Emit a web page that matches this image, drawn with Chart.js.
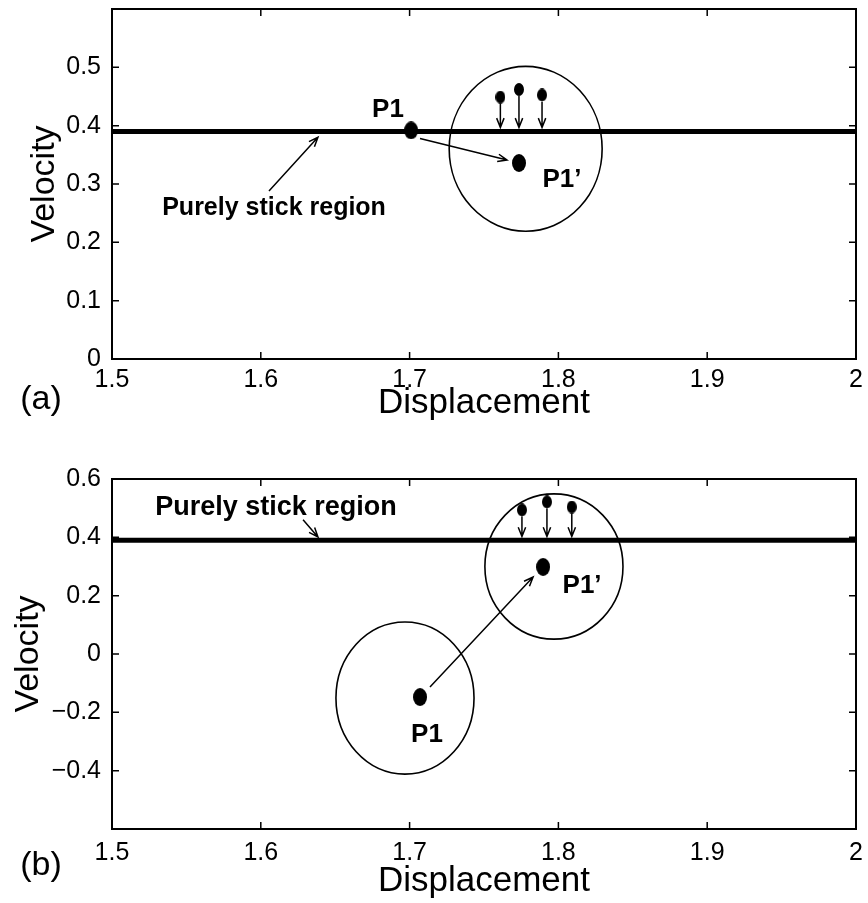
<!DOCTYPE html>
<html>
<head>
<meta charset="utf-8">
<script src="https://cdn.jsdelivr.net/npm/chart.js@4/dist/chart.umd.min.js"></script>
<style>
  html, body { margin: 0; padding: 0; background: #fff; }
  .panel { position: absolute; left: 0; width: 868px; }
  #wrapA { top: 0; height: 430px; }
  #wrapB { top: 440px; height: 463px; }
</style>
</head>
<body>
<div class="panel" id="wrapA"><canvas id="chartA"></canvas></div>
<div class="panel" id="wrapB"><canvas id="chartB"></canvas></div>
<script>
// axes
const xTicks = [1.5, 1.6, 1.7, 1.8, 1.9, 2];
const yTicksA = [0, 0.1, 0.2, 0.3, 0.4, 0.5];
const yTicksB = [-0.4, -0.2, 0, 0.2, 0.4, 0.6];
const stickVelocity = 0.39;

// panel (a)
const p1A = [1.701, 0.392];
const p1primeA = [1.7735, 0.336];
const smallXA = [1.761, 1.7735, 1.789];
const smallYA = [0.449, 0.462, 0.4526];
const circlesA = [[1.778, 0.3604, 0.0514, 0.1413]]; // cx, cy, rx, ry

// panel (b)
const p1B = [1.707, -0.1475];
const p1primeB = [1.7897, 0.2985];
const smallXB = [1.7755, 1.7923, 1.809];
const smallYB = [0.494, 0.5214, 0.504];
const circlesB = [[1.6969, -0.151, 0.0464, 0.2607], [1.797, 0.300, 0.0464, 0.249]];

const FONT = '"Liberation Sans", Arial, Helvetica, sans-serif';

function dotImage(w, h) {
    const c = document.createElement('canvas');
    c.width = w; c.height = h;
    const g = c.getContext('2d');
    g.fillStyle = '#000';
    g.beginPath();
    g.ellipse(w / 2, h / 2, w / 2, h / 2, 0, 0, Math.PI * 2);
    g.fill();
    return c;
}
const bigDot = dotImage(14, 18);
const smallDot = dotImage(10, 13);

function drawArrow(ctx, x1, y1, x2, y2) {
    const ang = Math.atan2(y2 - y1, x2 - x1);
    const len = 10, spread = 0.38;
    ctx.beginPath();
    ctx.moveTo(x1, y1);
    ctx.lineTo(x2, y2);
    ctx.moveTo(x2 - len * Math.cos(ang - spread), y2 - len * Math.sin(ang - spread));
    ctx.lineTo(x2, y2);
    ctx.lineTo(x2 - len * Math.cos(ang + spread), y2 - len * Math.sin(ang + spread));
    ctx.stroke();
}

const sketch = {
    id: 'sketch',
    afterDraw(chart, args, opts) {
        const { ctx, chartArea: a, scales: { x, y } } = chart;
        ctx.save();
        ctx.strokeStyle = '#000';

        // ticks pointing in, on all four sides
        ctx.lineWidth = 1.5;
        ctx.beginPath();
        x.ticks.forEach(t => {
            const px = x.getPixelForValue(t.value);
            ctx.moveTo(px, a.bottom); ctx.lineTo(px, a.bottom - 7);
            ctx.moveTo(px, a.top); ctx.lineTo(px, a.top + 7);
        });
        y.ticks.forEach(t => {
            const py = y.getPixelForValue(t.value);
            ctx.moveTo(a.left, py); ctx.lineTo(a.left + 7, py);
            ctx.moveTo(a.right, py); ctx.lineTo(a.right - 7, py);
        });
        ctx.stroke();

        // box
        ctx.lineWidth = 2;
        ctx.strokeRect(a.left, a.top, a.right - a.left, a.bottom - a.top);

        // circles
        ctx.lineWidth = 1.6;
        opts.circles.forEach(c => {
            const cx = x.getPixelForValue(c[0]), cy = y.getPixelForValue(c[1]);
            const rx = Math.abs(x.getPixelForValue(c[0] + c[2]) - cx);
            const ry = Math.abs(y.getPixelForValue(c[1] + c[3]) - cy);
            ctx.beginPath();
            ctx.ellipse(cx, cy, rx, ry, 0, 0, Math.PI * 2);
            ctx.stroke();
        });

        // arrows
        ctx.lineWidth = 1.5;
        opts.arrows.forEach(r => {
            drawArrow(ctx, x.getPixelForValue(r[0]), y.getPixelForValue(r[1]),
                x.getPixelForValue(r[2]), y.getPixelForValue(r[3]));
        });

        // text notes
        ctx.fillStyle = '#000';
        ctx.textAlign = 'center';
        ctx.textBaseline = 'middle';
        opts.notes.forEach(n => {
            ctx.font = 'bold ' + n[3] + 'px ' + FONT;
            ctx.fillText(n[0], x.getPixelForValue(n[1]), y.getPixelForValue(n[2]));
        });

        // panel letter
        ctx.font = '34px ' + FONT;
        ctx.fillText(opts.letter[0], opts.letter[1], opts.letter[2]);
        ctx.restore();
    }
};

function makeChart(id, cfg) {
    const small = cfg.smallX.map((v, i) => ({ x: v, y: cfg.smallY[i] }));
    return new Chart(document.getElementById(id), {
        type: 'scatter',
        data: {
            datasets: [
                {
                    type: 'line',
                    data: [{ x: 1.5, y: stickVelocity }, { x: 2, y: stickVelocity }],
                    borderColor: '#000',
                    borderWidth: 5,
                    pointRadius: 0
                },
                {
                    data: [{ x: cfg.p1[0], y: cfg.p1[1] }, { x: cfg.p1prime[0], y: cfg.p1prime[1] }],
                    pointStyle: bigDot,
                    pointRadius: 8
                },
                {
                    data: small,
                    pointStyle: smallDot,
                    pointRadius: 6
                }
            ]
        },
        options: {
            responsive: true,
            maintainAspectRatio: false,
            animation: false,
            layout: { padding: { top: cfg.padTop, right: 12, left: 0, bottom: 0 } },
            plugins: {
                legend: { display: false },
                tooltip: { enabled: false },
                sketch: {
                    circles: cfg.circles,
                    arrows: cfg.arrows,
                    notes: cfg.notes,
                    letter: cfg.letter
                }
            },
            scales: {
                x: {
                    type: 'linear',
                    min: 1.5,
                    max: 2,
                    afterBuildTicks: s => { s.ticks = xTicks.map(v => ({ value: v })); },
                    afterFit: s => {
                        s.height = cfg.xAxisHeight;
                        s.paddingLeft = 0;
                        s.paddingRight = 0;
                    },
                    grid: { display: false },
                    border: { display: false },
                    ticks: {
                        color: '#000',
                        padding: cfg.xTickPad,
                        maxRotation: 0,
                        font: { family: FONT, size: 25 },
                        callback: v => String(v)
                    },
                    title: {
                        display: true,
                        text: 'Displacement',
                        color: '#000',
                        font: { family: FONT, size: 35 },
                        padding: { top: 0, bottom: cfg.xTitlePad }
                    }
                },
                y: {
                    type: 'linear',
                    min: cfg.yMin,
                    max: cfg.yMax,
                    afterBuildTicks: s => { s.ticks = cfg.yTicks.map(v => ({ value: v })); },
                    afterFit: s => {
                        s.width = 112;
                        s.paddingTop = 0;
                        s.paddingBottom = 0;
                    },
                    grid: { display: false },
                    border: { display: false },
                    ticks: {
                        color: '#000',
                        padding: 3,
                        font: { family: FONT, size: 25 },
                        callback: v => String(v).replace('-', '\u2212')
                    },
                    title: {
                        display: true,
                        text: 'Velocity',
                        color: '#000',
                        font: { family: FONT, size: 34 },
                        padding: { top: cfg.yTitlePad, bottom: 0 }
                    }
                }
            }
        },
        plugins: [sketch]
    });
}

makeChart('chartA', {
    p1: p1A, p1prime: p1primeA, smallX: smallXA, smallY: smallYA,
    circles: circlesA,
    yMin: 0, yMax: 0.6, yTicks: yTicksA,
    padTop: 8, xAxisHeight: 71, xTickPad: -2, xTitlePad: 6, yTitlePad: 24,
    arrows: [
        [1.707, 0.378, 1.7655, 0.341],
        [1.6055, 0.288, 1.6384, 0.380],
        ...smallXA.map((v, i) => [v, smallYA[i] - 0.011, v, 0.397])
    ],
    notes: [
        ['P1', 1.6855, 0.428, 26],
        ['P1\u2019', 1.8024, 0.3065, 26],
        ['Purely stick region', 1.6089, 0.2586, 25]
    ],
    letter: ['(a)', 41, 400]
});

makeChart('chartB', {
    p1: p1B, p1prime: p1primeB, smallX: smallXB, smallY: smallYB,
    circles: circlesB,
    yMin: -0.6, yMax: 0.6, yTicks: yTicksB,
    padTop: 39, xAxisHeight: 74, xTickPad: 1, xTitlePad: 1, yTitlePad: 8,
    arrows: [
        [1.7137, -0.1132, 1.783, 0.264],
        [1.6284, 0.46, 1.6384, 0.4014],
        ...smallXB.map((v, i) => [v, smallYB[i] - 0.022, v, 0.403])
    ],
    notes: [
        ['Purely stick region', 1.6102, 0.5009, 27],
        ['P1\u2019', 1.8159, 0.2333, 26],
        ['P1', 1.7117, -0.2779, 26]
    ],
    letter: ['(b)', 41, 426]
});
</script>
</body>
</html>
